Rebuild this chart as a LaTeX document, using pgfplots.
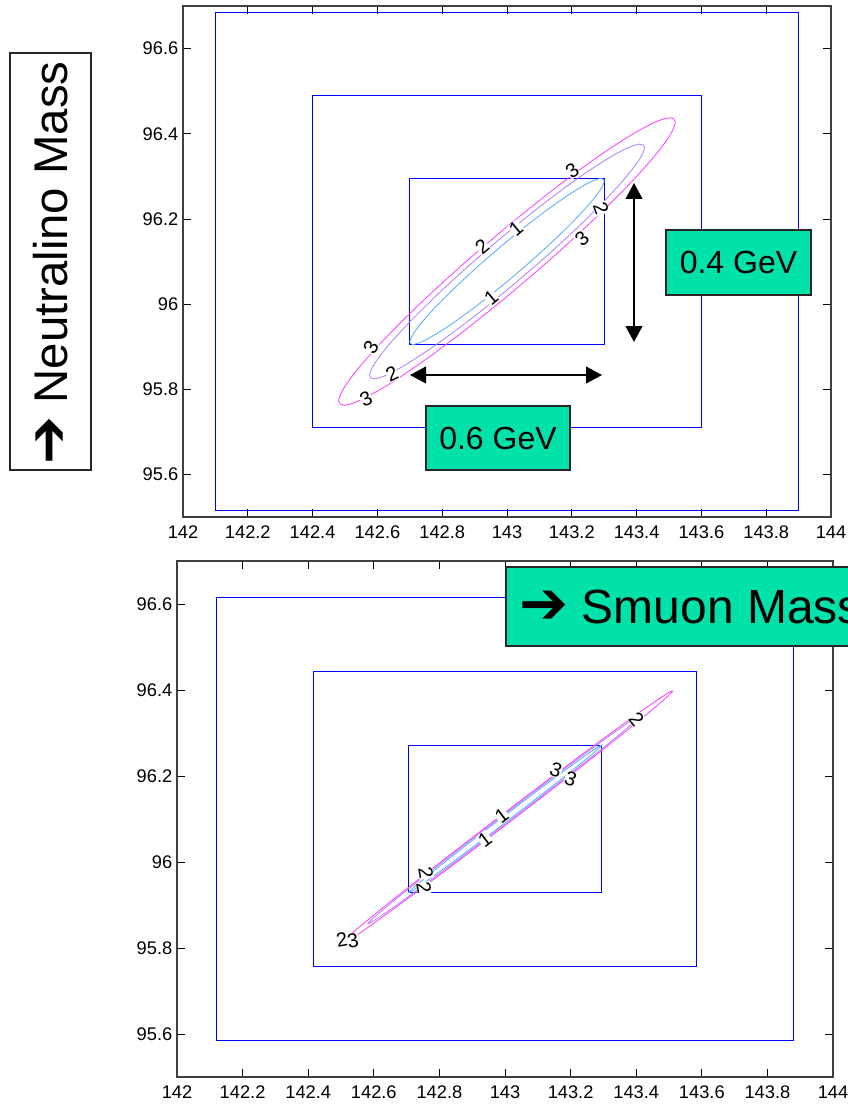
\documentclass[border=0pt]{standalone}
\usepackage{fontspec}
\setmainfont{Liberation Sans}
\newfontfamily\djv{DejaVu Sans}
\usepackage{pgfplots}
\pgfplotsset{compat=1.18}
\usetikzlibrary{arrows.meta}
\definecolor{c1}{RGB}{80,170,255}
\definecolor{c2}{RGB}{175,125,255}
\definecolor{c3}{RGB}{255,60,255}
\definecolor{gbox}{RGB}{0,226,170}
\definecolor{bx}{RGB}{0,0,255}
\tikzset{clab/.style={font=\fontsize{15}{17}\selectfont, fill=white, inner sep=0.2pt}}
\pgfplotsset{
  mmaxis/.style={
    anchor=north west, scale only axis,
    xmin=142, xmax=144, ymin=95.5, ymax=96.7,
    xtick={142,142.2,142.4,142.6,142.8,143,143.2,143.4,143.6,143.8,144},
    xticklabels={142,142.2,142.4,142.6,142.8,143,143.2,143.4,143.6,143.8,144},
    ytick={95.6,95.8,96,96.2,96.4,96.6},
    yticklabels={95.6,95.8,96,96.2,96.4,96.6},
    tick align=inside, major tick length=6pt,
    xtick pos=both, ytick pos=both,
    axis line style={black!75, line width=0.8pt},
    tick style={black, line width=0.6pt},
    ticklabel style={font=\fontsize{13.7}{16}\selectfont},
    xticklabel style={yshift=-3pt},
    scaled ticks=false,
  },
}
\begin{document}
\begin{tikzpicture}
\useasboundingbox (0,0) rectangle (636pt,-828.75pt);
\clip (0,0) rectangle (636pt,-828.75pt);
% ---------------- top axis ----------------
\begin{axis}[mmaxis, at={(137.25pt,-4.5pt)}, width=486pt, height=383.25pt]
\addplot[bx, line width=0.75pt] coordinates {(142.1,95.515) (143.9,95.515) (143.9,96.685) (142.1,96.685) (142.1,95.515)};
\addplot[bx, line width=0.75pt] coordinates {(142.4,95.71) (143.6,95.71) (143.6,96.49) (142.4,96.49) (142.4,95.71)};
\addplot[bx, line width=0.75pt] coordinates {(142.7,95.905) (143.3,95.905) (143.3,96.295) (142.7,96.295) (142.7,95.905)};
\addplot[c1, line width=0.6pt, smooth] coordinates {(143.0000,96.1474) (142.9224,96.0968) (142.8500,96.0465) (142.7879,95.9998) (142.7402,95.9599) (142.7102,95.9296) (142.7000,95.9109) (142.7102,95.9050) (142.7402,95.9125) (142.7879,95.9328) (142.8500,95.9644) (142.9224,96.0053) (143.0000,96.0526) (143.0776,96.1032) (143.1500,96.1535) (143.2121,96.2002) (143.2598,96.2401) (143.2898,96.2704) (143.3000,96.2892) (143.2898,96.2950) (143.2598,96.2875) (143.2121,96.2673) (143.1500,96.2356) (143.0776,96.1947) (143.0000,96.1474)};
\addplot[c2, line width=0.6pt, smooth] coordinates {(143.0000,96.1670) (142.8902,96.0955) (142.7879,96.0243) (142.7000,95.9582) (142.6326,95.9019) (142.5902,95.8590) (142.5757,95.8325) (142.5902,95.8243) (142.6326,95.8348) (142.7000,95.8635) (142.7879,95.9082) (142.8902,95.9660) (143.0000,96.0330) (143.1098,96.1045) (143.2121,96.1757) (143.3000,96.2418) (143.3674,96.2981) (143.4098,96.3410) (143.4243,96.3675) (143.4098,96.3757) (143.3674,96.3652) (143.3000,96.3365) (143.2121,96.2918) (143.1098,96.2340) (143.0000,96.1670)};
\addplot[c3, line width=0.6pt, smooth] coordinates {(143.0000,96.1821) (142.8655,96.0945) (142.7402,96.0073) (142.6326,95.9264) (142.5500,95.8573) (142.4981,95.8048) (142.4804,95.7724) (142.4981,95.7623) (142.5500,95.7752) (142.6326,95.8103) (142.7402,95.8651) (142.8655,95.9359) (143.0000,96.0179) (143.1345,96.1055) (143.2598,96.1927) (143.3674,96.2736) (143.4500,96.3427) (143.5019,96.3952) (143.5196,96.4276) (143.5019,96.4377) (143.4500,96.4248) (143.3674,96.3897) (143.2598,96.3349) (143.1345,96.2641) (143.0000,96.1821)};
\node[clab, rotate=35] at (axis cs:143.201,96.314) {3};
\node[clab, rotate=-70] at (axis cs:143.290,96.224) {2};
\node[clab, rotate=40] at (axis cs:143.028,96.177) {1};
\node[clab, rotate=40] at (axis cs:142.923,96.135) {2};
\node[clab, rotate=40] at (axis cs:143.231,96.153) {3};
\node[clab, rotate=40] at (axis cs:142.951,96.015) {1};
\node[clab, rotate=60] at (axis cs:142.580,95.899) {3};
\node[clab, rotate=25] at (axis cs:142.645,95.836) {2};
\node[clab, rotate=25] at (axis cs:142.565,95.777) {3};
\end{axis}
% ---------------- bottom axis ----------------
\begin{axis}[mmaxis, at={(132.75pt,-420.75pt)}, width=492pt, height=387pt]
\addplot[bx, line width=0.75pt] coordinates {(142.12,95.585) (143.88,95.585) (143.88,96.615) (142.12,96.615) (142.12,95.585)};
\addplot[bx, line width=0.75pt] coordinates {(142.415,95.757) (143.585,95.757) (143.585,96.443) (142.415,96.443) (142.415,95.757)};
\addplot[bx, line width=0.75pt] coordinates {(142.705,95.928) (143.295,95.928) (143.295,96.272) (142.705,96.272) (142.705,95.928)};
\addplot[c1, line width=0.6pt, smooth] coordinates {(143.0000,96.1088) (142.9237,96.0640) (142.8525,96.0217) (142.7914,95.9847) (142.7445,95.9556) (142.7151,95.9364) (142.7050,95.9282) (142.7151,95.9318) (142.7445,95.9469) (142.7914,95.9723) (142.8525,96.0065) (142.9237,96.0471) (143.0000,96.0912) (143.0764,96.1360) (143.1475,96.1783) (143.2086,96.2153) (143.2555,96.2444) (143.2849,96.2636) (143.2950,96.2718) (143.2849,96.2682) (143.2555,96.2531) (143.2086,96.2277) (143.1475,96.1935) (143.0764,96.1529) (143.0000,96.1088)};
\addplot[c2, line width=0.6pt, smooth] coordinates {(143.0000,96.1124) (142.8920,96.0491) (142.7914,95.9893) (142.7050,95.9370) (142.6387,95.8958) (142.5970,95.8686) (142.5828,95.8571) (142.5970,95.8621) (142.6387,95.8834) (142.7050,95.9195) (142.7914,95.9678) (142.8920,96.0252) (143.0000,96.0876) (143.1080,96.1509) (143.2086,96.2107) (143.2950,96.2630) (143.3613,96.3042) (143.4030,96.3314) (143.4172,96.3429) (143.4030,96.3379) (143.3613,96.3166) (143.2950,96.2806) (143.2086,96.2322) (143.1080,96.1749) (143.0000,96.1124)};
\addplot[c3, line width=0.6pt, smooth] coordinates {(143.0000,96.1152) (142.8678,96.0377) (142.7445,95.9644) (142.6387,95.9004) (142.5575,95.8499) (142.5065,95.8166) (142.4891,95.8025) (142.5065,95.8087) (142.5575,95.8347) (142.6387,95.8789) (142.7445,95.9381) (142.8678,96.0083) (143.0000,96.0848) (143.1322,96.1623) (143.2555,96.2356) (143.3613,96.2996) (143.4425,96.3501) (143.4935,96.3834) (143.5110,96.3975) (143.4935,96.3913) (143.4425,96.3653) (143.3613,96.3211) (143.2555,96.2619) (143.1322,96.1917) (143.0000,96.1152)};
\node[clab, rotate=-50] at (axis cs:143.401,96.333) {2};
\node[clab, rotate=-20] at (axis cs:143.155,96.214) {3};
\node[clab, rotate=-20] at (axis cs:143.200,96.193) {3};
\node[clab, rotate=37] at (axis cs:142.990,96.108) {1};
\node[clab, rotate=37] at (axis cs:142.939,96.053) {1};
\node[clab, rotate=-80] at (axis cs:142.759,95.975) {2};
\node[clab, rotate=-80] at (axis cs:142.753,95.940) {2};
\node[clab, rotate=10] at (axis cs:142.503,95.819) {2};
\node[clab, rotate=10] at (axis cs:142.536,95.817) {3};
\end{axis}
% ---------------- annotations (pixel units) ----------------
\begin{scope}[x=0.75pt,y=-0.75pt]
\draw[line width=1.5pt, {Triangle[width=12.5pt,length=12pt]}-{Triangle[width=12.5pt,length=12pt]}] (410,375) -- (602,375);
\draw[line width=1.5pt, {Triangle[width=12.5pt,length=12pt]}-{Triangle[width=12.5pt,length=12pt]}] (634,183) -- (634,342);
\draw[fill=gbox, draw=black!85, line width=1.2pt] (666,230) rectangle (811,295);
\node[font=\fontsize{24}{28}\selectfont] at (738.5,262.5) {0.4 GeV};
\draw[fill=gbox, draw=black!85, line width=1.2pt] (426,406) rectangle (570,470);
\node[font=\fontsize{24}{28}\selectfont] at (498,438) {0.6 GeV};
\draw[fill=white, draw=black!85, line width=1.2pt] (10,53) rectangle (91,470);
\node[rotate=90, font=\fontsize{35.5}{38}\selectfont] at (51,263) {{\djv\fontsize{43}{43}\selectfont ➔} Neutralino Mass};
\draw[fill=gbox, draw=black!85, line width=1.2pt] (506,567) rectangle (900,646);
\node[anchor=west, inner sep=0pt, font=\fontsize{36}{40}\selectfont] at (519,606.5) {{\djv\fontsize{44}{44}\selectfont ➔} Smuon Mass};
\end{scope}
\end{tikzpicture}
\end{document}
